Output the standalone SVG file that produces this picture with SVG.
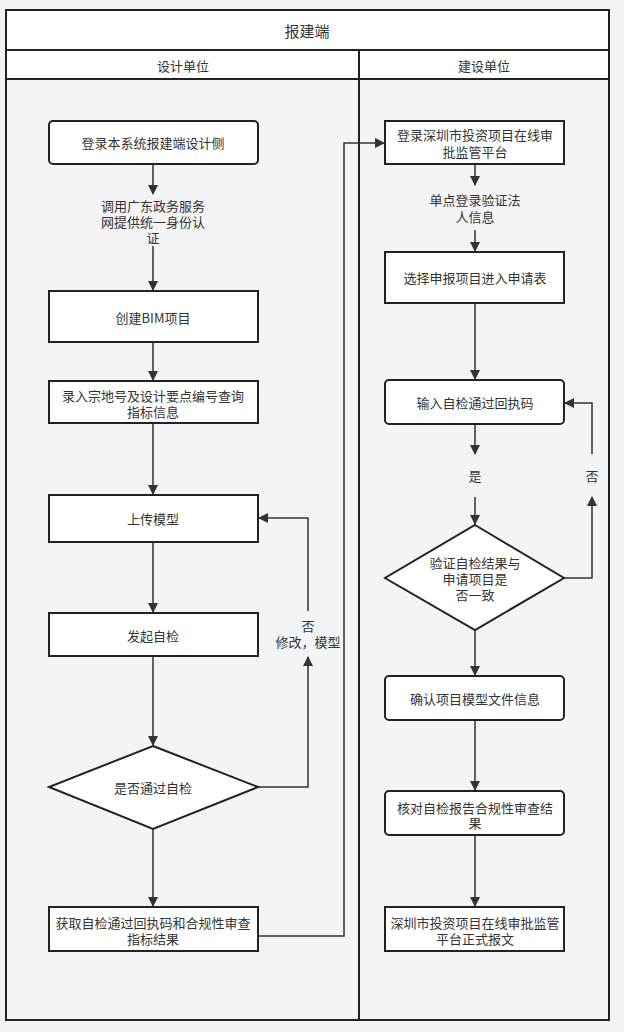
<svg xmlns="http://www.w3.org/2000/svg" width="624" height="1032" viewBox="0 0 624 1032">
<style>
text{font-family:"Noto Sans CJK SC","Liberation Sans",sans-serif;font-size:13px;fill:#333;text-anchor:middle;dominant-baseline:central}
.box{fill:#fff;stroke:#222;stroke-width:2}
.frame{fill:none;stroke:#222;stroke-width:2}
.edge{fill:none;stroke:#333;stroke-width:1.5}
</style>
<defs>
<marker id="arr" markerWidth="10" markerHeight="10" refX="9" refY="5" orient="auto" markerUnits="userSpaceOnUse">
<path d="M0,0 L10,5 L0,10 Z" fill="#333"/>
</marker>
</defs>
<rect x="0" y="0" width="624" height="1032" fill="#f3f3f3"/>
<g id="pool">
<rect x="6" y="10" width="603" height="40" fill="#fff"/>
<rect x="6" y="50" width="603" height="29" fill="#fff"/>
<rect x="6" y="79" width="603" height="941" fill="#f3f4f5"/>
<rect class="frame" x="6" y="10" width="603" height="1010"/>
<line class="frame" x1="6" y1="50" x2="609" y2="50"/>
<line class="frame" x1="6" y1="79" x2="609" y2="79"/>
<line class="frame" x1="359" y1="50" x2="359" y2="1020"/>
<text x="307" y="30" style="font-size:15px">报建端</text>
<text x="183" y="65">设计单位</text>
<text x="484" y="65">建设单位</text>
</g>
<g id="connectors">
<line class="edge" x1="153" y1="164" x2="153" y2="194" marker-end="url(#arr)"/>
<line class="edge" x1="153" y1="246" x2="153" y2="290" marker-end="url(#arr)"/>
<line class="edge" x1="153" y1="342" x2="153" y2="380" marker-end="url(#arr)"/>
<line class="edge" x1="153" y1="423" x2="153" y2="494" marker-end="url(#arr)"/>
<line class="edge" x1="153" y1="542" x2="153" y2="612" marker-end="url(#arr)"/>
<line class="edge" x1="153" y1="656" x2="153" y2="745" marker-end="url(#arr)"/>
<line class="edge" x1="153" y1="829" x2="153" y2="906" marker-end="url(#arr)"/>
<polyline class="edge" points="258,787 308,787 308,657" marker-end="url(#arr)"/>
<polyline class="edge" points="308,611 308,518 259,518" marker-end="url(#arr)"/>
<polyline class="edge" points="258,936 344,936 344,143 384,143" marker-end="url(#arr)"/>
<line class="edge" x1="475" y1="164" x2="475" y2="185" marker-end="url(#arr)"/>
<line class="edge" x1="475" y1="230" x2="475" y2="251" marker-end="url(#arr)"/>
<line class="edge" x1="475" y1="303" x2="475" y2="379" marker-end="url(#arr)"/>
<line class="edge" x1="475" y1="424" x2="475" y2="454" marker-end="url(#arr)"/>
<line class="edge" x1="475" y1="497" x2="475" y2="524" marker-end="url(#arr)"/>
<polyline class="edge" points="564,578 592,578 592,497" marker-end="url(#arr)"/>
<polyline class="edge" points="592,454 592,403 565,403" marker-end="url(#arr)"/>
<line class="edge" x1="475" y1="630" x2="475" y2="675" marker-end="url(#arr)"/>
<line class="edge" x1="475" y1="720" x2="475" y2="790" marker-end="url(#arr)"/>
<line class="edge" x1="475" y1="835" x2="475" y2="906" marker-end="url(#arr)"/>
</g>
<g id="n1"><rect class="box" x="49" y="121" width="209" height="43" rx="4"/><text x="153" y="142">登录本系统报建端设计侧</text></g>
<g id="n2"><text x="153" y="205">调用广东政务服务</text><text x="153" y="221">网提供统一身份认</text><text x="153" y="237">证</text></g>
<g id="n3"><rect class="box" x="49" y="291" width="209" height="51"/><text x="153" y="317">创建BIM项目</text></g>
<g id="n4"><rect class="box" x="49" y="381" width="209" height="42"/><text x="153" y="395">录入宗地号及设计要点编号查询</text><text x="153" y="411">指标信息</text></g>
<g id="n5"><rect class="box" x="49" y="495" width="209" height="47"/><text x="153" y="518">上传模型</text></g>
<g id="n6"><rect class="box" x="49" y="613" width="209" height="43"/><text x="153" y="635">发起自检</text></g>
<g id="n7"><polygon class="box" points="153,746 258,787 153,829 49,787"/><text x="153" y="787">是否通过自检</text></g>
<g id="n8"><text x="308" y="625">否</text><text x="308" y="641">修改，模型</text></g>
<g id="n9"><rect class="box" x="49" y="907" width="209" height="44"/><text x="153" y="922">获取自检通过回执码和合规性审查</text><text x="153" y="938">指标结果</text></g>
<g id="r1"><rect class="box" x="385" y="121" width="179" height="43"/><text x="475" y="134">登录深圳市投资项目在线审</text><text x="475" y="151">批监管平台</text></g>
<g id="r2"><text x="475" y="199">单点登录验证法</text><text x="475" y="216">人信息</text></g>
<g id="r3"><rect class="box" x="385" y="252" width="179" height="51"/><text x="475" y="277">选择申报项目进入申请表</text></g>
<g id="r4"><rect class="box" x="385" y="380" width="179" height="44" rx="4"/><text x="475" y="402">输入自检通过回执码</text></g>
<g id="r5"><text x="475" y="475">是</text></g>
<g id="r6"><text x="592" y="475">否</text></g>
<g id="r7"><polygon class="box" points="475,525 564,578 475,630 385,578"/><text x="475" y="562">验证自检结果与</text><text x="475" y="578">申请项目是</text><text x="475" y="594">否一致</text></g>
<g id="r8"><rect class="box" x="385" y="676" width="179" height="44" rx="4"/><text x="475" y="698">确认项目模型文件信息</text></g>
<g id="r9"><rect class="box" x="385" y="791" width="179" height="44" rx="4"/><text x="475" y="807">核对自检报告合规性审查结</text><text x="475" y="822">果</text></g>
<g id="r10"><rect class="box" x="385" y="907" width="179" height="44"/><text x="475" y="922">深圳市投资项目在线审批监管</text><text x="475" y="938">平台正式报文</text></g>
</svg>
